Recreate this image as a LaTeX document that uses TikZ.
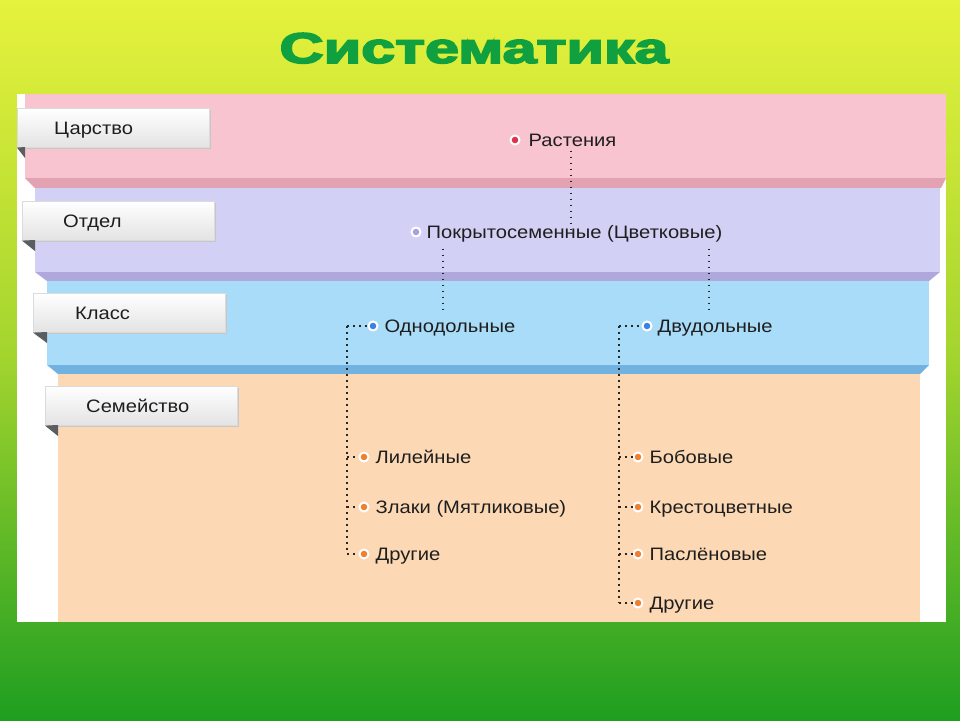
\documentclass[tikz,border=0pt]{standalone}
\usepackage{fontspec}
\setmainfont{Liberation Sans}
\newfontfamily\titlefont{Liberation Sans Bold}[FakeBold=3.5]
\newfontfamily\itemfont{Liberation Sans}[FakeStretch=1.12]
\usetikzlibrary{calc}
\definecolor{bgtop}{HTML}{E6F23C}
\definecolor{bgmid}{HTML}{A2D42E}
\definecolor{bgbot}{HTML}{1F9E20}
\definecolor{titlegreen}{HTML}{10A040}
\definecolor{pinkband}{HTML}{F8C4D0}
\definecolor{pinkedge}{HTML}{E2A2B2}
\definecolor{lavband}{HTML}{D2D0F4}
\definecolor{lavedge}{HTML}{AEA8DC}
\definecolor{blueband}{HTML}{A8DCF8}
\definecolor{blueedge}{HTML}{72B2E0}
\definecolor{peachband}{HTML}{FCD9B4}
\definecolor{foldc}{HTML}{5A5E60}
\definecolor{dpink}{HTML}{E0304A}
\definecolor{dlav}{HTML}{A8A0E0}
\definecolor{dblue}{HTML}{3A80E8}
\definecolor{dorange}{HTML}{F08030}
\definecolor{txt}{HTML}{1E1E1E}
\begin{document}
\begin{tikzpicture}[x=1pt,y=-1pt,
  tab/.style={rectangle, anchor=north west, minimum width=192pt, minimum height=39pt,
    inner sep=0pt, top color=white, bottom color=black!11, draw=black!14, line width=0.6pt},
  tabtext/.style={anchor=base west, inner sep=0pt, font=\itemfont\fontsize{18}{21}\selectfont, text=txt},
  dot/.style={circle, inner sep=0pt, minimum size=9pt, draw=white, line width=2pt, fill=#1},
  itemtext/.style={anchor=base west, inner sep=0pt, text height=13pt, text depth=4pt,
    font=\itemfont\fontsize{18}{21}\selectfont, text=txt},
  dotl/.style={draw=black!85, line width=1.5pt, dash pattern=on 1.5pt off 4.5pt}]
% background
\fill[top color=bgtop, bottom color=bgmid] (0,0) rectangle (960,361);
\fill[top color=bgmid, bottom color=bgbot] (0,360) rectangle (960,720);
\useasboundingbox (0,0) rectangle (960,720);
% title
\node[anchor=base, inner sep=0pt, text=titlegreen] (title) at (474,63)
  {\scalebox{1.42}[1]{\titlefont\fontsize{43}{50}\selectfont Систематика}};
% white panel
\fill[white] (17,94) rectangle (946,622);
% bands
\fill[pinkband] (25,94) rectangle (946,178);
\fill[pinkedge] (25,178) -- (946,178) -- (941,188) -- (35,188) -- cycle;
\fill[lavband] (35,188) rectangle (940,272);
\fill[lavedge] (35,272) -- (940,272) -- (929,281) -- (47,281) -- cycle;
\fill[blueband] (47,281) rectangle (929,365);
\fill[blueedge] (47,365) -- (929,365) -- (920,374) -- (58,374) -- cycle;
\fill[peachband] (58,374) rectangle (920,622);
% tabs
\foreach \nm/\x/\y/\bx/\tx/\lbl in {t1/17/108/25/54/Царство, t2/22/201/35/63/Отдел,
    t3/33/293/47/75/Класс, t4/45/386/58/86/Семейство}{
  \fill[black!22] (\x+1.5,\y+1.5) rectangle ++(192,39);
  \node[tab] (\nm) at (\x,\y) {};
  \fill[foldc] (\nm.south west) -- (\bx,\y+39) -- (\bx,\y+50) -- cycle;
  \node[tabtext] (\nm l) at (\tx,\y+26) {\lbl};
}
% items
\node[dot=dpink] (rastd) at (515,140) {};
\node[itemtext] (rast) at ([xshift=8,yshift=-6.5]rastd.east) {Растения};
\node[dot=dlav] (pokrd) at (416,232) {};
\node[itemtext] (pokr) at ([xshift=5,yshift=-6.5]pokrd.east) {Покрытосеменные (Цветковые)};
\node[dot=dblue] (odnd) at (373,326) {};
\node[itemtext] (odn) at ([xshift=6,yshift=-6.5]odnd.east) {Однодольные};
\node[dot=dblue] (dvud) at (647,326) {};
\node[itemtext] (dvu) at ([xshift=5,yshift=-6.5]dvud.east) {Двудольные};
\foreach \nm/\x/\y/\lbl in {lil/364/457/Лилейные, zlak/364/507/Злаки (Мятликовые),
    drug1/364/554/Другие, bob/638/457/Бобовые, krest/638/507/Крестоцветные,
    pasl/638/554/Паслёновые, drug2/638/603/Другие}{
  \node[dot=dorange] (\nm d) at (\x,\y) {};
  \node[itemtext] (\nm) at ([xshift=6,yshift=-6.5]\nm d.east) {\lbl};
}
% connectors
\coordinate (bx0) at (571,0);
\coordinate (bx1) at (443,0);
\coordinate (bx2) at (709,0);
\coordinate (tx1) at (347,0);
\coordinate (tx2) at (619,0);
\draw[dotl] (rast.south -| bx0) -- ([yshift=-4]pokr.north -| bx0);
\draw[dotl] ([yshift=-6]pokr.south -| bx1) -- ([yshift=6]odn.north -| bx1);
\draw[dotl] ([yshift=-6]pokr.south -| bx2) -- ([yshift=6]dvu.north -| bx2);
\draw[dotl] (odnd.center -| tx1) -- (drug1d.center -| tx1);
\draw[dotl] (dvud.center -| tx2) -- (drug2d.center -| tx2);
\draw[dotl] (odnd.center -| tx1) -- (odnd.west);
\draw[dotl] (dvud.center -| tx2) -- (dvud.west);
\foreach \nm in {lil,zlak,drug1}{\draw[dotl] (\nm d.center -| tx1) -- (\nm d.west);}
\foreach \nm in {bob,krest,pasl,drug2}{\draw[dotl] (\nm d.center -| tx2) -- (\nm d.west);}
\end{tikzpicture}
\end{document}
